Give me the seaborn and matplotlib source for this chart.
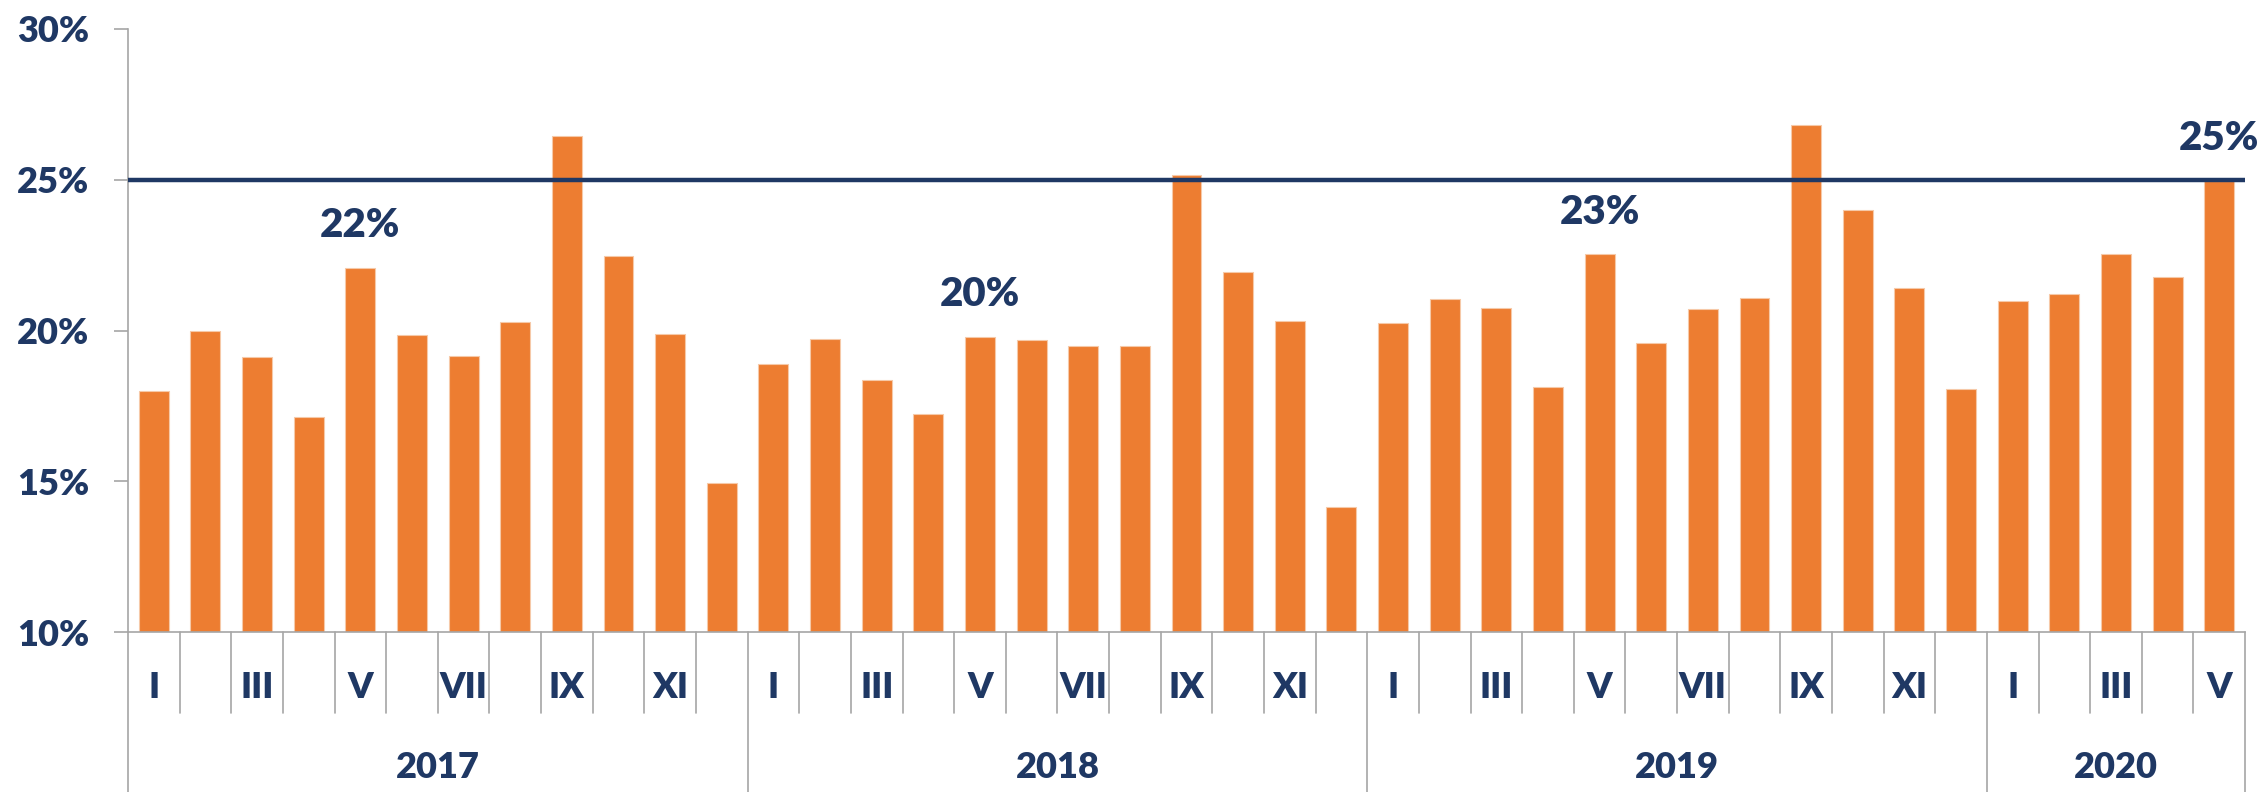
import matplotlib
matplotlib.use("Agg")
import matplotlib.pyplot as plt
import matplotlib.transforms as mtransforms
import seaborn as sns
import pandas as pd
import numpy as np

# ---- data ----
years = ["2017", "2018", "2019", "2020"]
months_per_year = [12, 12, 12, 5]
month_names = ["I", "II", "III", "IV", "V", "VI", "VII", "VIII", "IX", "X", "XI", "XII"]
values_2017 = [18.0, 20.0, 19.13, 17.14, 22.08, 19.85, 19.16, 20.29, 26.45, 22.47, 19.88, 14.93]
values_2018 = [18.89, 19.73, 18.36, 17.23, 19.79, 19.70, 19.49, 19.47, 25.16, 21.94, 20.32, 14.13]
values_2019 = [20.24, 21.06, 20.74, 18.14, 22.53, 19.59, 20.71, 21.09, 26.8, 24.0, 21.40, 18.07]
values_2020 = [20.97, 21.2, 22.53, 21.79, 24.97]
target = 25.0
annotated = {("2017", "V"): "22%", ("2018", "V"): "20%", ("2019", "V"): "23%", ("2020", "V"): "25%"}
y_ticks = [10, 15, 20, 25, 30]

rows = []
for y, n, vals in zip(years, months_per_year, [values_2017, values_2018, values_2019, values_2020]):
    for m in range(n):
        rows.append({"year": y, "month": month_names[m], "value": vals[m]})
df = pd.DataFrame(rows)
df["pos"] = np.arange(len(df))

NAVY = "#1F3864"
ORANGE = "#ED7D31"
GRAY = "#A6A6A6"
W = "heavy"

sns.set_theme(style="white")
plt.rcParams["font.family"] = ["Lato", "DejaVu Sans"]
plt.rcParams["font.weight"] = W

fig = plt.figure(figsize=(22.65, 7.92), dpi=100)
ax = fig.add_axes([0.0565, 0.202, 0.9347, 0.7614])

sns.barplot(data=df, x="pos", y="value", color=ORANGE, width=0.58, ax=ax,
            saturation=1, edgecolor="#F6C9A8", linewidth=0.8)

n = len(df)
ax.set_xlim(-0.5, n - 0.5)
ax.set_ylim(10, 30)
ax.set_yticks(y_ticks)
ax.set_yticklabels([f"{t}%" for t in y_ticks], fontsize=26, fontweight=W, color=NAVY)
ax.set_xticks([])
ax.set_xlabel("")
ax.set_ylabel("")
ax.tick_params(axis="y", which="both", left=True, length=10, width=1.2, color=GRAY, pad=18)

for s in ["top", "right"]:
    ax.spines[s].set_visible(False)
for s in ["left", "bottom"]:
    ax.spines[s].set_color(GRAY)
    ax.spines[s].set_linewidth(1.2)

# target line
ax.axhline(target, color=NAVY, linewidth=3.2, zorder=5)

# annotations
for i, r in df.iterrows():
    key = (r["year"], r["month"])
    if key in annotated:
        ax.annotate(annotated[key], xy=(r["pos"], r["value"]), xytext=(0, 17),
                    textcoords="offset points", ha="center", va="bottom",
                    fontsize=29, fontweight=W, color=NAVY, zorder=6,
                    annotation_clip=False)

# hierarchical x-axis
trans = mtransforms.blended_transform_factory(ax.transData, ax.transAxes)
month_sep_bottom = -0.1343
year_sep_bottom = -0.2653
year_starts = np.cumsum([0] + months_per_year)
for b in range(n + 1):
    xb = b - 0.5
    if b in year_starts:
        ax.plot([xb, xb], [0, year_sep_bottom], transform=trans, color=GRAY,
                linewidth=1.2, clip_on=False)
    else:
        ax.plot([xb, xb], [0, month_sep_bottom], transform=trans, color=GRAY,
                linewidth=1.2, clip_on=False)

for i, r in df.iterrows():
    if r["month"] in ("I", "III", "V", "VII", "IX", "XI"):
        ax.text(r["pos"], -0.0912, r["month"], transform=trans, ha="center", va="center",
                fontsize=26, fontweight=W, color=NAVY)

for k, y in enumerate(years):
    center = (year_starts[k] + year_starts[k + 1] - 1) / 2
    ax.text(center, -0.2239, y, transform=trans, ha="center", va="center",
            fontsize=26, fontweight=W, color=NAVY)

fig.savefig("out.png", dpi=100, facecolor="white")
